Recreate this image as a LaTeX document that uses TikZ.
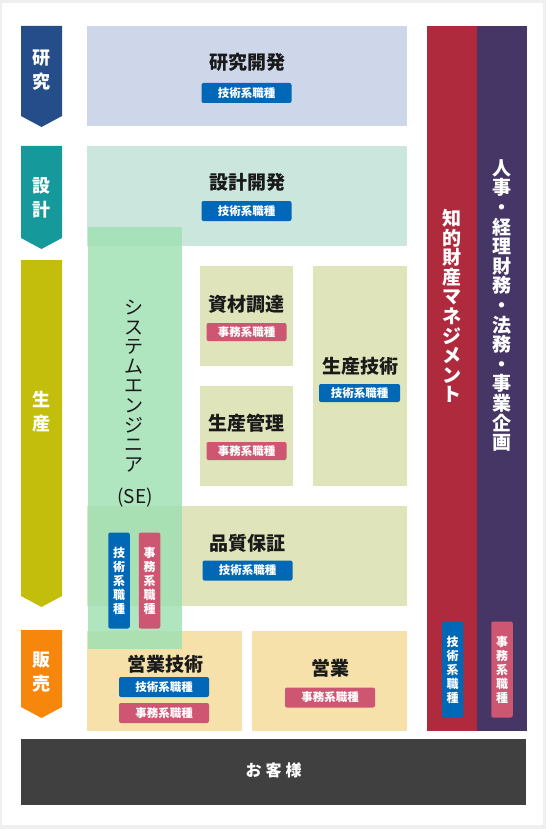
\documentclass[tikz,border=0pt]{standalone}
\usepackage{fontspec}
\setmainfont{Noto Sans CJK JP}
\definecolor{framegray}{HTML}{EFEFEF}
\definecolor{cres}{HTML}{254D89}
\definecolor{cdes}{HTML}{15999B}
\definecolor{cprod}{HTML}{C3BE0B}
\definecolor{csale}{HTML}{F7860D}
\definecolor{bres}{HTML}{CED6EA}
\definecolor{bdes}{HTML}{CBE6DD}
\definecolor{bprod}{HTML}{DFE4BA}
\definecolor{bsale}{HTML}{F5E1A9}
\definecolor{bse}{HTML}{9EE0B2}
\definecolor{cip}{HTML}{AF2A3D}
\definecolor{chr}{HTML}{453665}
\definecolor{ccust}{HTML}{404040}
\definecolor{badgeblue}{HTML}{0068B7}
\definecolor{badgepink}{HTML}{CE5672}
\definecolor{titletext}{HTML}{1A1A1A}
\newcommand\areabox[6]{%
  \node[area, fill=#2, minimum width={(#5-#3)*1pt}, minimum height={(#6-#4)*1pt}] (#1) at ({(#3+#5)/2},{(#4+#6)/2}) {};}
\newcommand\bannerarrow[5]{%
  \fill[#3] (21,#1) -- (62,#1) -- (62,#2) -- (41.5,#2+11) -- (21,#2) -- cycle;}
\begin{document}
\begin{tikzpicture}[x=1pt,y=-1pt,
  area/.style={inner sep=0pt, outer sep=0pt, draw=none},
  bantext/.style={text=white, font=\fontsize{18}{24}\selectfont\bfseries, align=center, inner sep=0pt},
  titletxt/.style={text=titletext, font=\fontsize{19}{20}\selectfont\bfseries, inner sep=0pt},
  badge/.style={text=white, font=\fontsize{11.5}{12}\selectfont\bfseries, inner sep=0pt, rounded corners=2pt, minimum height=20pt, minimum width=90pt},
  bluebadge/.style={badge, fill=badgeblue},
  pinkbadge/.style={badge, fill=badgepink},
  smallbadge/.style={minimum width=81pt, minimum height=18pt},
  vbadge/.style={text=white, font=\fontsize{12}{14}\selectfont\bfseries, align=center, inner sep=0pt, rounded corners=2pt, minimum width=21.5pt, minimum height=96pt},
  vtext/.style={font=\fontsize{19}{19.6}\selectfont, align=center, inner sep=0pt},
  vtextbold/.style={font=\fontsize{19}{19.6}\selectfont\bfseries, align=center, inner sep=0pt, text=white}
]
\fill[framegray] (0,0) rectangle (546,829);
\fill[white] (2,3) rectangle (543,825);
\useasboundingbox (0,0) rectangle (546,829);

% stage banners
\bannerarrow{26}{116}{cres}{}{}
\node[bantext] (bres) at (41.5,70.5) {研\\究};
\bannerarrow{146}{238}{cdes}{}{}
\node[bantext] (bdes) at (41.5,197.5) {設\\計};
\bannerarrow{260}{596}{cprod}{}{}
\node[bantext] (bprod) at (41.5,411.5) {生\\産};
\bannerarrow{630}{707}{csale}{}{}
\node[bantext] (bsale) at (41.5,672) {販\\売};

% areas
\areabox{res}{bres}{87}{26}{407}{126}
\areabox{des}{bdes}{87}{146}{407}{246}
\areabox{mat}{bprod}{200}{266}{293}{366}
\areabox{pmg}{bprod}{200}{386}{293}{486}
\areabox{pte}{bprod}{313}{266}{407}{486}
\areabox{qa}{bprod}{87}{506}{407}{606}
\areabox{ste}{bsale}{87}{631}{242}{731}
\areabox{sal}{bsale}{252}{631}{407}{731}

% SE overlay
\node[area, fill=bse, fill opacity=0.82, minimum width=94pt, minimum height=422pt] (se) at (135,438) {};

% titles and badges
\node[titletxt] (restitle) at (247,62.5) {研究開発};
\node[bluebadge] (resbadge) at (246.5,93) {技術系職種};
\node[titletxt] (destitle) at (247,182.5) {設計開発};
\node[bluebadge] (desbadge) at (246.5,211) {技術系職種};
\node[titletxt] (mattitle) at (246.5,304.5) {資材調達};
\node[pinkbadge, smallbadge, minimum width=80pt] (matbadge) at (246.5,332) {事務系職種};
\node[titletxt] (pmgtitle) at (246.5,423.5) {生産管理};
\node[pinkbadge, smallbadge, minimum width=80pt] (pmgbadge) at (246.5,451) {事務系職種};
\node[titletxt] (ptetitle) at (360,366.5) {生産技術};
\node[bluebadge, smallbadge] (ptebadge) at (359.5,393) {技術系職種};
\node[titletxt] (qatitle) at (247,543.5) {品質保証};
\node[bluebadge] (qabadge) at (247.5,570.5) {技術系職種};
\node[titletxt] (stetitle) at (165,664.5) {営業技術};
\node[bluebadge] (stebadge1) at (164,687) {技術系職種};
\node[pinkbadge] (stebadge2) at (164,713) {事務系職種};
\node[titletxt] (saltitle) at (330,668) {営業};
\node[pinkbadge] (salbadge) at (330,697.5) {事務系職種};

% SE text and badges
\node[vtext, text=titletext] (setext) at (134,386) {シ\\ス\\テ\\ム\\エ\\ン\\ジ\\ニ\\ア};
\node[font=\fontsize{19}{20}\selectfont, text=titletext, inner sep=0pt] (seabbr) at (135,498) {(SE)};
\node[vbadge, fill=badgeblue] (sebadge1) at (119,580.5) {技\\術\\系\\職\\種};
\node[vbadge, fill=badgepink] (sebadge2) at (149.5,580.5) {事\\務\\系\\職\\種};

% right columns
\node[area, fill=cip, minimum width=50pt, minimum height=705pt] (ip) at (452,378.5) {};
\node[area, fill=chr, minimum width=50pt, minimum height=705pt] (hr) at (502,378.5) {};
\node[vtextbold] (iptext) at (452,306) {知\\的\\財\\産\\マ\\ネ\\ジ\\メ\\ン\\ト};
\node[vtextbold] (hrtext) at (502,305.5) {人\\事\\・\\経\\理\\財\\務\\・\\法\\務\\・\\事\\業\\企\\画};
\node[vbadge, fill=badgeblue] (ipbadge) at (452.5,669.5) {技\\術\\系\\職\\種};
\node[vbadge, fill=badgepink] (hrbadge) at (502,669.5) {事\\務\\系\\職\\種};

% customers
\node[area, fill=ccust, minimum width=505pt, minimum height=66pt] (cust) at (273.5,772) {};
\node[text=white, font=\fontsize{16}{18}\selectfont\bfseries, inner sep=0pt] (custtext) at (273.5,770) {お\hspace{4pt}客\hspace{4pt}様};
\end{tikzpicture}
\end{document}
